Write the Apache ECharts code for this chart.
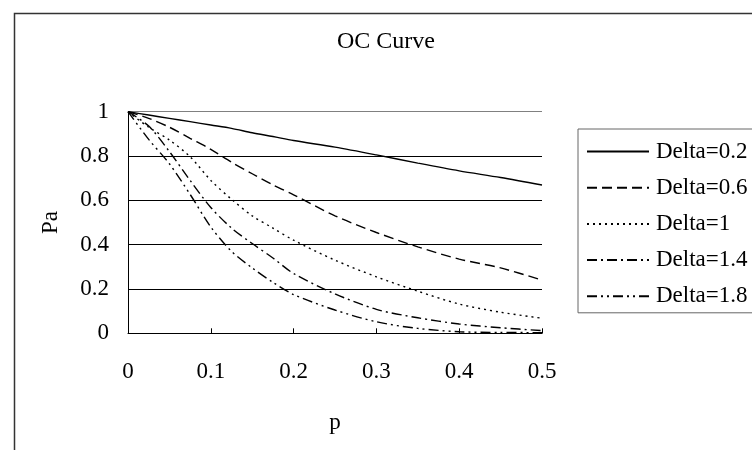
<!DOCTYPE html>
<html>
<head>
<meta charset="utf-8">
<script src="https://cdn.jsdelivr.net/npm/echarts@6/dist/echarts.min.js"></script>
<style>html,body{margin:0;padding:0;background:#fff}#c{width:752px;height:450px}</style>
</head>
<body>
<div id="c"></div>
<script>
const pValues = [0, 0.025, 0.05, 0.075, 0.1, 0.125, 0.15, 0.175, 0.2, 0.25, 0.3, 0.35, 0.4, 0.45, 0.5];
const seriesNames = ['Delta=0.2', 'Delta=0.6', 'Delta=1', 'Delta=1.4', 'Delta=1.8'];
const delta02 = [1, 0.985, 0.97, 0.955, 0.94, 0.925, 0.905, 0.888, 0.87, 0.84, 0.805, 0.768, 0.733, 0.703, 0.669];
const delta06 = [1, 0.97, 0.93, 0.88, 0.83, 0.772, 0.72, 0.67, 0.625, 0.53, 0.455, 0.39, 0.335, 0.295, 0.24];
const delta10 = [1, 0.93, 0.872, 0.797, 0.69, 0.605, 0.53, 0.475, 0.42, 0.33, 0.255, 0.19, 0.132, 0.095, 0.068];
const delta14 = [1, 0.935, 0.82, 0.69, 0.568, 0.475, 0.405, 0.34, 0.27, 0.178, 0.108, 0.07, 0.042, 0.025, 0.012];
const delta18 = [1, 0.875, 0.765, 0.627, 0.48, 0.37, 0.295, 0.23, 0.175, 0.105, 0.052, 0.022, 0.007, 0.004, 0.003];
const xTicks = [0, 0.1, 0.2, 0.3, 0.4, 0.5];
const yTicks = [0, 0.2, 0.4, 0.6, 0.8, 1];

const allValues = [delta02, delta06, delta10, delta14, delta18];
const dashes = ['solid', [10, 5], [2, 4], [10, 4, 2, 4], [10, 4, 2, 4, 2, 4]];
const font = '"Liberation Serif", "Times New Roman", serif';

const chart = echarts.init(document.getElementById('c'), null, {renderer: 'canvas'});
chart.setOption({
  animation: false,
  backgroundColor: '#fff',
  title: {
    text: 'OC Curve', left: 337, top: 30, padding: 0,
    textStyle: {fontFamily: font, fontSize: 24, fontWeight: 'normal', color: '#000'}
  },
  graphic: [{
    type: 'rect', left: 12, top: 11, z: -1,
    shape: {x: 0, y: 0, width: 800, height: 500},
    style: {fill: 'none', stroke: '#333', lineWidth: 1.5}
  }],
  legend: {
    data: seriesNames, orient: 'vertical', left: 578, top: 129,
    padding: [11, 200, 5, 8], itemGap: 13.2, itemWidth: 62, itemHeight: 24,
    borderColor: '#666', borderWidth: 1,
    itemStyle: {opacity: 0},
    textStyle: {fontFamily: font, fontSize: 23, color: '#000', padding: [0, 0, 0, 2]}
  },
  grid: {left: 128, right: 210, top: 111.7, bottom: 116.7, containLabel: false},
  xAxis: {
    type: 'value', min: 0, max: 0.5, interval: 0.1,
    name: 'p', nameLocation: 'middle', nameGap: 78,
    nameTextStyle: {fontFamily: font, fontSize: 23, color: '#000'},
    axisLine: {lineStyle: {color: '#000', width: 1}},
    axisTick: {show: true, inside: true, length: 5, lineStyle: {color: '#000'}},
    axisLabel: {fontFamily: font, fontSize: 23, color: '#000', margin: 27,
      formatter: v => xTicks.includes(Math.round(v * 10) / 10) ? String(Math.round(v * 10) / 10) : ''},
    splitLine: {show: false}
  },
  yAxis: {
    type: 'value', min: 0, max: 1, interval: 0.2,
    name: 'Pa', nameLocation: 'middle', nameGap: 66, nameRotate: 90,
    nameTextStyle: {fontFamily: font, fontSize: 23, color: '#000'},
    axisLine: {show: true, lineStyle: {color: '#000', width: 1}},
    axisTick: {show: false},
    axisLabel: {fontFamily: font, fontSize: 23, color: '#000', margin: 19,
      formatter: v => yTicks.includes(Math.round(v * 10) / 10) ? String(Math.round(v * 10) / 10) : ''},
    splitLine: {show: true, lineStyle: {color: ['#000', '#000', '#000', '#000', '#000', '#808080'], width: 1}}
  },
  series: seriesNames.map((n, i) => ({
    name: n, type: 'line', smooth: 0.3, symbol: 'none', showSymbol: false,
    data: pValues.map((p, j) => [p, allValues[i][j]]),
    lineStyle: {color: '#000', width: 1.4, type: dashes[i]},
    itemStyle: {color: '#000'}
  }))
});
</script>
</body>
</html>
